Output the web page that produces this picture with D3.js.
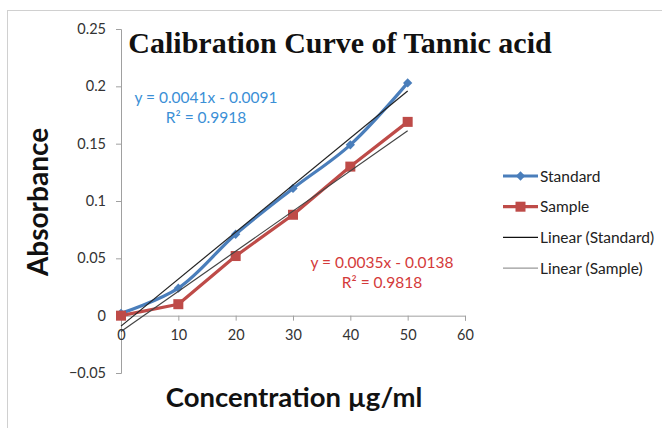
<!DOCTYPE html>
<html>
<head>
<meta charset="utf-8">
<script src="https://cdnjs.cloudflare.com/ajax/libs/d3/7.8.5/d3.min.js"></script>
<style>
  body { margin: 0; background: #fff; }
  text { font-family: 'Lato', 'Open Sans', sans-serif; }
</style>
</head>
<body>
<div id="chart"></div>
<script>
// values
const concentration = [0, 10, 20, 30, 40, 50]
const standard = [0.002, 0.024, 0.071, 0.111, 0.149, 0.203]
const sample = [0.000, 0.010, 0.052, 0.088, 0.130, 0.169]
const xTicks = [0, 10, 20, 30, 40, 50, 60]
const yTicks = [-0.05, 0, 0.05, 0.1, 0.15, 0.2, 0.25]
const trendStandard = { slope: 0.0041, intercept: -0.0091 }
const trendSample = { slope: 0.0035, intercept: -0.0138 }
const legendLabels = ['Standard', 'Sample', 'Linear (Standard)', 'Linear (Sample)']

const width = 662
const height = 428
const blue = '#4a7ebb'
const red = '#be4b48'

const svg = d3.select('#chart')
  .append('svg')
  .attr('width', width)
  .attr('height', height)

// outer frame
svg.append('rect')
  .attr('x', 7.5).attr('y', 10.5)
  .attr('width', 700).attr('height', 500)
  .attr('fill', 'none')
  .attr('stroke', '#d0d0d0')

const x = d3.scaleLinear().domain([0, 60]).range([121, 465])
const y = d3.scaleLinear().domain([-0.05, 0.25]).range([373, 29])

// y axis
const yAxis = svg.append('g')
  .attr('transform', `translate(${x(0)},0)`)
  .call(d3.axisLeft(y).tickValues(yTicks).tickSize(5).tickPadding(10).tickFormat(d => d3.format('~g')(d)))
yAxis.select('.domain').attr('stroke', '#a0a0a0')
yAxis.selectAll('.tick line').attr('stroke', '#a0a0a0')
yAxis.selectAll('.tick text').attr('fill', '#333').style('font-size', '14.5px')

// x axis at zero
const xAxis = svg.append('g')
  .attr('transform', `translate(0,${y(0)})`)
  .call(d3.axisBottom(x).tickValues(xTicks).tickSize(5).tickPadding(9))
xAxis.select('.domain').attr('stroke', '#a0a0a0')
xAxis.selectAll('.tick line').attr('stroke', '#a0a0a0')
xAxis.selectAll('.tick text').attr('fill', '#333').style('font-size', '14.5px')

// trend lines
const trendLine = (t, color) => {
  const ends = [0, 50]
  svg.append('path')
    .datum(ends)
    .attr('fill', 'none')
    .attr('stroke', color)
    .attr('stroke-width', 1.2)
    .attr('d', d3.line().x(d => x(d)).y(d => y(t.slope * d + t.intercept)))
}

// series
const seriesStd = concentration.map((c, i) => ({ c, v: standard[i] }))
const seriesSmp = concentration.map((c, i) => ({ c, v: sample[i] }))

svg.append('path')
  .datum(seriesStd)
  .attr('fill', 'none')
  .attr('stroke', blue)
  .attr('stroke-width', 3.2)
  .attr('stroke-linejoin', 'round')
  .attr('d', d3.line().curve(d3.curveCatmullRom).x(d => x(d.c)).y(d => y(d.v)))

svg.selectAll('.dm')
  .data(seriesStd)
  .join('path')
  .attr('transform', d => `translate(${x(d.c)},${y(d.v)})`)
  .attr('d', d3.symbol(d3.symbolDiamond2, 55))
  .attr('fill', blue)

svg.append('path')
  .datum(seriesSmp)
  .attr('fill', 'none')
  .attr('stroke', red)
  .attr('stroke-width', 3.2)
  .attr('stroke-linejoin', 'round')
  .attr('d', d3.line().x(d => x(d.c)).y(d => y(d.v)))

svg.selectAll('.sq')
  .data(seriesSmp)
  .join('rect')
  .attr('x', d => x(d.c) - 5)
  .attr('y', d => y(d.v) - 5)
  .attr('width', 10).attr('height', 10)
  .attr('fill', red)

trendLine(trendStandard, '#222')
trendLine(trendSample, '#444')

// equations
const eq = (t, r2, cx, cy, color) => {
  const sign = t.intercept < 0 ? '-' : '+'
  svg.append('text')
    .attr('x', cx).attr('y', cy)
    .attr('text-anchor', 'middle')
    .attr('fill', color)
    .style('font-size', '15.5px')
    .text(`y = ${t.slope}x ${sign} ${Math.abs(t.intercept)}`)
  svg.append('text')
    .attr('x', cx).attr('y', cy + 20)
    .attr('text-anchor', 'middle')
    .attr('fill', color)
    .style('font-size', '15.5px')
    .text(`R² = ${r2}`)
}
eq(trendStandard, 0.9918, 206, 103, '#3b8fd6')
eq(trendSample, 0.9818, 382, 268, '#d43a3a')

// title
svg.append('text')
  .attr('x', 340).attr('y', 53)
  .attr('text-anchor', 'middle')
  .style('font-family', "'Liberation Serif', 'Times New Roman', serif")
  .style('font-weight', 'bold')
  .style('font-size', '30px')
  .attr('fill', '#111')
  .text('Calibration Curve of Tannic acid')

// axis titles
svg.append('text')
  .attr('transform', `translate(48,${(y(0.25) + y(-0.05)) / 2 + 1}) rotate(-90)`)
  .attr('text-anchor', 'middle')
  .style('font-weight', 'bold')
  .style('font-size', '28px')
  .attr('fill', '#111')
  .text('Absorbance')

svg.append('text')
  .attr('x', 294).attr('y', 407)
  .attr('text-anchor', 'middle')
  .style('font-weight', 'bold')
  .style('font-size', '27.5px')
  .attr('fill', '#111')
  .text('Concentration µg/ml')

// legend
const legend = svg.append('g').attr('transform', 'translate(503,176)')
legendLabels.forEach((label, i) => {
  const g = legend.append('g').attr('transform', `translate(0,${i * 30.7})`)
  const color = [blue, red, '#111', '#999'][i]
  g.append('line')
    .attr('x1', 0).attr('x2', 35)
    .attr('stroke', color)
    .attr('stroke-width', i < 2 ? 3.2 : 1.3)
  if (i === 0) {
    g.append('path').attr('transform', 'translate(17.5,0)')
      .attr('d', d3.symbol(d3.symbolDiamond2, 55)).attr('fill', blue)
  } else if (i === 1) {
    g.append('rect').attr('x', 12.5).attr('y', -5).attr('width', 10).attr('height', 10).attr('fill', red)
  }
  g.append('text')
    .attr('x', 37).attr('y', 5.5)
    .attr('fill', '#222')
    .style('font-size', '15.5px')
    .text(label)
})
</script>
</body>
</html>
